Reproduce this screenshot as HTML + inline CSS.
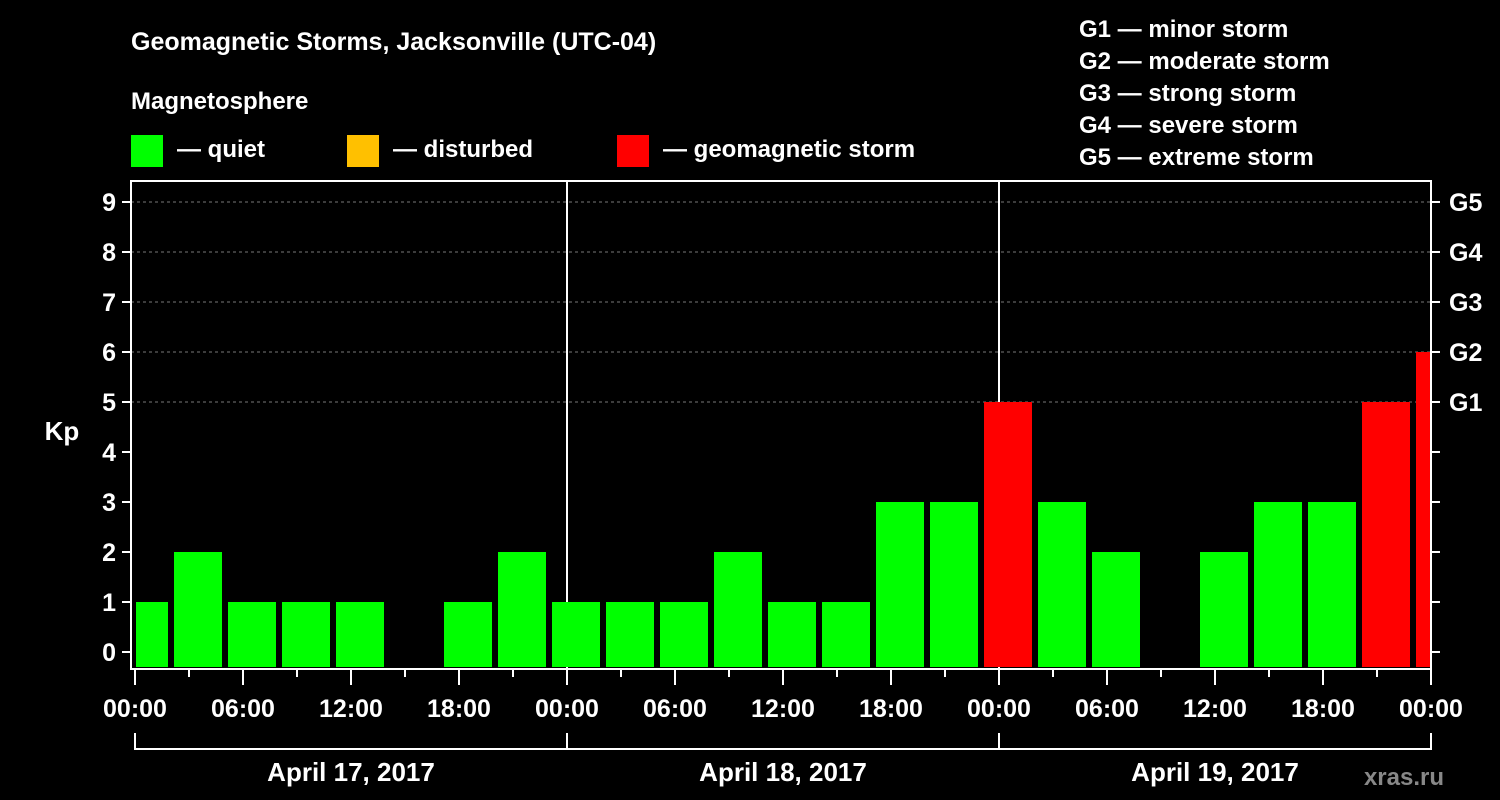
<!DOCTYPE html>
<html><head><meta charset="utf-8"><style>
html,body{margin:0;padding:0;background:#000;}
svg{display:block;font-family:"Liberation Sans",Arial,sans-serif;font-weight:bold;}
</style></head><body>
<svg id="chart" width="1500" height="800" viewBox="0 0 1500 800">
<rect x="0" y="0" width="1500" height="800" fill="#000"/>
<text x="131" y="50" fill="#fff" font-size="25">Geomagnetic Storms, Jacksonville (UTC-04)</text>
<text x="131" y="109" fill="#fff" font-size="24">Magnetosphere</text>
<g><rect x="131" y="135" width="32" height="32" fill="#00ff00"/><text x="177" y="157" fill="#fff" font-size="24">— quiet</text></g>
<g><rect x="347" y="135" width="32" height="32" fill="#ffc000"/><text x="393" y="157" fill="#fff" font-size="24">— disturbed</text></g>
<g><rect x="617" y="135" width="32" height="32" fill="#ff0000"/><text x="663" y="157" fill="#fff" font-size="24">— geomagnetic storm</text></g>
<g fill="#fff" font-size="24">
<text x="1079" y="37">G1 — minor storm</text>
<text x="1079" y="69">G2 — moderate storm</text>
<text x="1079" y="101">G3 — strong storm</text>
<text x="1079" y="133">G4 — severe storm</text>
<text x="1079" y="165">G5 — extreme storm</text>
</g>
<text x="62" y="440" fill="#fff" font-size="26" text-anchor="middle">Kp</text>
<text x="1444" y="785" fill="#888" font-size="24" text-anchor="end">xras.ru</text>
<g id="grid"></g><g id="bars"></g><g id="axes"></g>
</svg>
<script>
const kpValues = [1,2,1,1,1,0,1,2,1,1,1,2,1,1,3,3,5,3,2,0,2,3,3,5,6];
const dateLabels = ["April 17, 2017","April 18, 2017","April 19, 2017"];
const hourLabels = ["00:00","06:00","12:00","18:00"];
const gLabels = ["G1","G2","G3","G4","G5"];
const NS="http://www.w3.org/2000/svg";
const X0=135, PXH=18, firstSlotHour=-1, yTop=181, yBot=669;
const xs=h=>X0+h*PXH;
const ys=k=>652-k*50;
function mk(tag,attrs,parent){const e=document.createElementNS(NS,tag);for(const k in attrs)e.setAttribute(k,attrs[k]);parent.appendChild(e);return e;}
const grid=document.getElementById('grid'),bars=document.getElementById('bars'),axes=document.getElementById('axes');
for(let k=5;k<=9;k++){const l=mk('line',{x1:131,x2:1431,y1:ys(k),y2:ys(k),stroke:'#777','stroke-dasharray':'3,3','stroke-width':1},grid);

}
for(let d=1;d<dateLabels.length;d++){const l=mk('line',{x1:xs(24*d),x2:xs(24*d),y1:yTop,y2:yBot,stroke:'#fff','stroke-width':2},grid);

}
kpValues.forEach((v,i)=>{
 if(v<=0)return;
 let a=xs(firstSlotHour+i*3)+3,b=xs(firstSlotHour+i*3+3)-3;
 a=Math.max(a,xs(0)+1);b=Math.min(b,xs(72));
 const c=v>=5?'#ff0000':(v>=4?'#ffc000':'#00ff00');
 const r=mk('rect',{x:a,y:ys(v),width:b-a,height:667-ys(v),fill:c},bars);
 
 
});
mk('rect',{x:131,y:yTop,width:1300,height:yBot-yTop,fill:'none',stroke:'#fff','stroke-width':2},axes);
for(let k=0;k<=9;k++){
 mk('line',{x1:122,x2:131,y1:ys(k),y2:ys(k),stroke:'#fff','stroke-width':2},axes);
 mk('line',{x1:1431,x2:1440,y1:ys(k),y2:ys(k),stroke:'#fff','stroke-width':2},axes);
 const t=mk('text',{x:116,y:ys(k)+9,fill:'#fff','font-size':25,'text-anchor':'end'},axes);t.textContent=k;
 
 
}
gLabels.forEach((g,i)=>{const t=mk('text',{x:1449,y:ys(5+i)+9,fill:'#fff','font-size':25},axes);t.textContent=g;
 
 });
for(let h=0;h<=72;h+=3){
 const major=h%6===0;
 mk('line',{x1:xs(h),x2:xs(h),y1:669,y2:major?685:677,stroke:'#fff','stroke-width':2},axes);
 if(major&&h%24!==0||h%24===0){}
}
for(let h=0;h<=72;h+=6){
 const t=mk('text',{x:xs(h),y:717,fill:'#fff','font-size':25,'text-anchor':'middle'},axes);
 t.textContent=hourLabels[(h%24)/6];
 
 
}
mk('path',{d:`M${xs(0)} 733V749H${xs(72)}V733`,stroke:'#fff','stroke-width':2,fill:'none'},axes);
dateLabels.forEach((d,i)=>{
 mk('line',{x1:xs(24*i),x2:xs(24*i),y1:733,y2:749,stroke:'#fff','stroke-width':2},axes);
 const t=mk('text',{x:xs(24*i+12),y:781,fill:'#fff','font-size':26,'text-anchor':'middle'},axes);t.textContent=d;
 
 
});
</script>
</body></html>
